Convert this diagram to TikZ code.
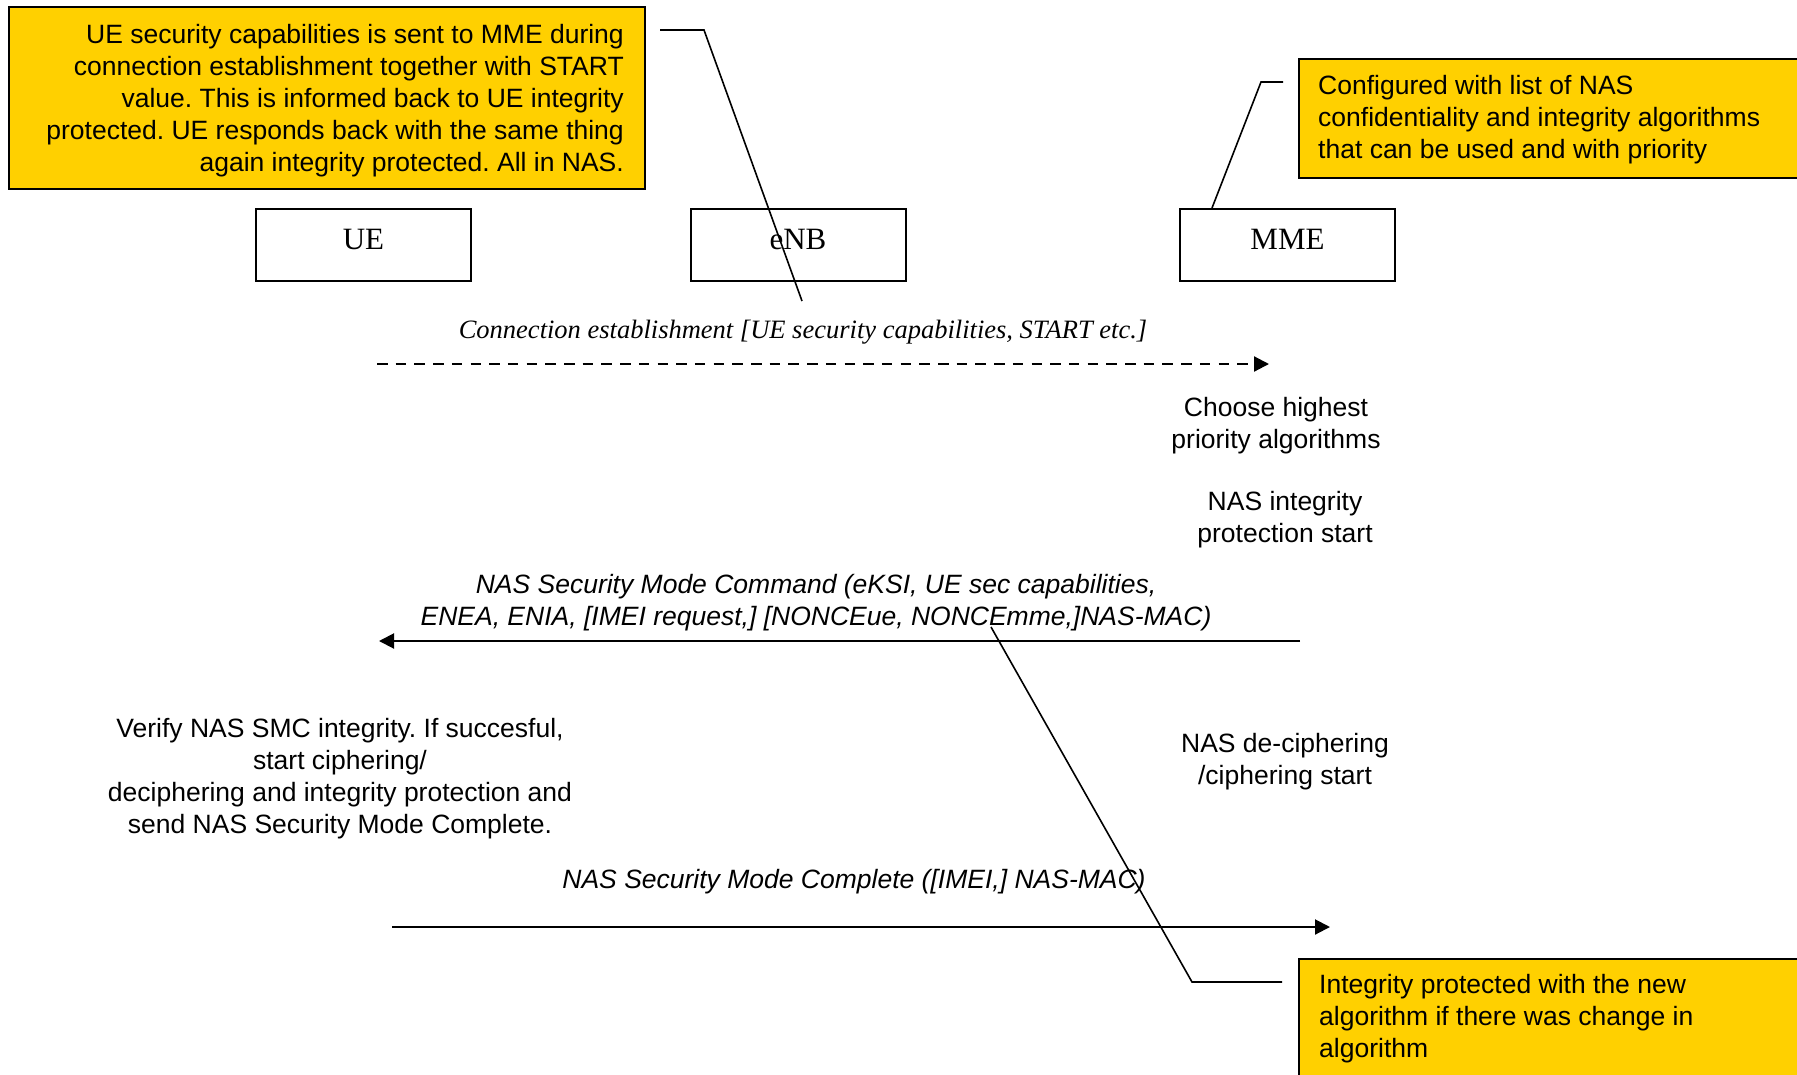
\documentclass[tikz,border=0pt]{standalone}
\usepackage{fontspec}
\setmainfont{Liberation Sans}
\newfontfamily\serifface{Liberation Serif}
\usetikzlibrary{arrows.meta}
\frenchspacing
\definecolor{noteyellow}{RGB}{255,208,0}
\tikzset{
  txt/.style={font=\fontsize{26.5}{32}\selectfont, align=center, inner sep=0pt},
  itxt/.style={txt, font=\fontsize{26.5}{32}\selectfont\itshape},
  entity/.style={draw, line width=2pt, minimum width=215pt, minimum height=72pt,
    inner sep=0pt, text height=20pt, text depth=12pt,
    font=\serifface\fontsize{31}{36}\selectfont},
  notebox/.style={draw, line width=2pt, fill=noteyellow, anchor=north west, inner sep=0pt},
  msg/.style={line width=2pt, -{Triangle[length=15pt,width=15pt]}},
  callout/.style={line width=1.6pt, line join=miter},
}
\begin{document}
\begin{tikzpicture}[x=1pt,y=-1pt]
\useasboundingbox[fill=white] (0,0) rectangle (1797,1074);

% network entities
\node[entity] (ue)  at (363.5,245) {UE};
\node[entity] (enb) at (798,245)   {eNB};
\node[entity] (mme) at (1287.5,245) {MME};

% yellow notes
\node[notebox, minimum width=636pt, minimum height=182pt] (noteA) at (8,6) {};
\node[txt, align=right, anchor=east] (noteAtext) at (624,100.5)
  {UE security capabilities is sent to MME during\\
   connection establishment together with START\\
   value. This is informed back to UE integrity\\
   protected. UE responds back with the same thing\\
   again integrity protected. All in NAS.};

\node[notebox, minimum width=540pt, minimum height=119pt] (noteB) at (1298,58) {};
\node[txt, align=left, anchor=west] (noteBtext) at (1318,119.5)
  {Configured with list of NAS\\
   confidentiality and integrity algorithms\\
   that can be used and with priority};

\node[notebox, minimum width=540pt, minimum height=150pt] (noteC) at (1298,958) {};
\node[txt, align=left, anchor=north west] (noteCtext) at (1319,974)
  {Integrity protected with the new\\
   algorithm if there was change in\\
   algorithm};

% message end points
\coordinate (m1s) at (377,364);  \coordinate (m1e) at (1269,364);
\coordinate (m2s) at (1300,641); \coordinate (m2e) at (379,641);
\coordinate (m3s) at (392,927);  \coordinate (m3e) at (1330,927);

% messages
\draw[msg, line width=2.2pt, dash pattern=on 10.5pt off 8.2pt] (m1s) -- (m1e);
\draw[msg] (m2s) -- (m2e);
\draw[msg] (m3s) -- (m3e);

% message and step labels
\node[txt, font=\serifface\itshape\fontsize{26.5}{32}\selectfont] (l1) at (803,332.5)
  {Connection establishment [UE security capabilities, START etc.]};
\node[txt] (step1) at (1276,425.5) {Choose highest\\priority algorithms};
\node[txt] (step2) at (1285,519.5) {NAS integrity\\protection start};
\node[itxt] (l2) at (816,602.5)
  {NAS Security Mode Command (eKSI, UE sec capabilities,\\
   ENEA, ENIA, [IMEI request,] [NONCEue, NONCEmme,]NAS-MAC)};
\node[txt] (step3) at (340,778.5)
  {Verify NAS SMC integrity. If succesful,\\
   start ciphering/\\
   deciphering and integrity protection and\\
   send NAS Security Mode Complete.};
\node[txt] (step4) at (1285,761.5) {NAS de-ciphering\\/ciphering start};
\node[itxt] (l3) at (854,881.5) {NAS Security Mode Complete ([IMEI,] NAS-MAC)};

% callout leaders
\coordinate (aA) at (660,30);   \coordinate (kA) at (704,30);   \coordinate (tA) at (802,301);
\coordinate (aB) at (1283,82);  \coordinate (kB) at (1261,82);  \coordinate (tB) at ([xshift=33pt]mme.north west);
\coordinate (aC) at (1282,982); \coordinate (kC) at (1192,982); \coordinate (tC) at (991,627);
\draw[callout] (aA) -- (kA) -- (tA);
\draw[callout] (aB) -- (kB) -- (tB);
\draw[callout] (aC) -- (kC) -- (tC);
\end{tikzpicture}
\end{document}
